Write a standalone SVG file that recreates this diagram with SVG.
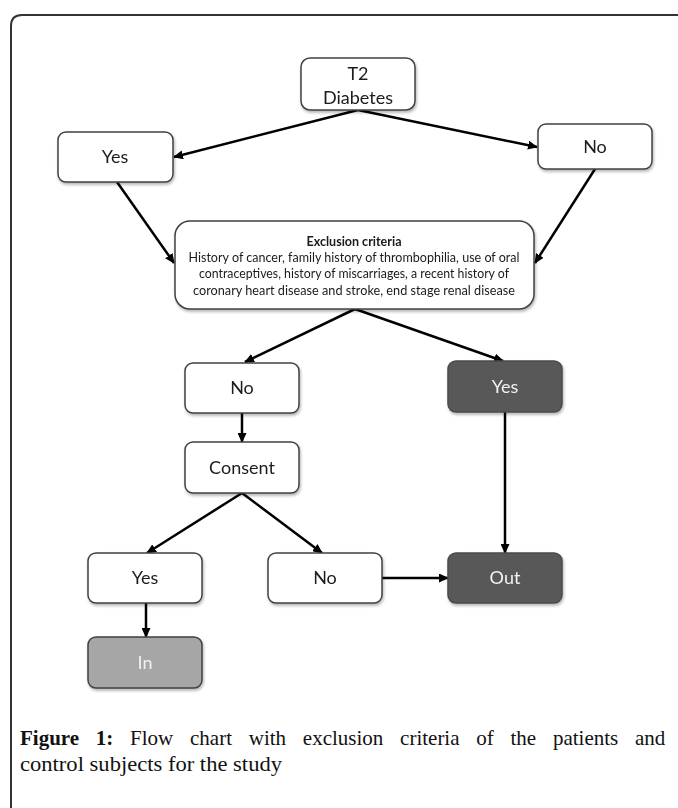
<svg xmlns="http://www.w3.org/2000/svg" width="678" height="808" viewBox="0 0 678 808">
<style>
.box{fill:#fff;stroke:#404040;stroke-width:1.5}
.dark{fill:#595959;stroke:#4a4a4a;stroke-width:1.5}
.grey{fill:#a6a6a6;stroke:#404040;stroke-width:1.5}
.lbl{font-family:Lato,"Open Sans",sans-serif;font-size:18px;fill:#1a1a1a;text-anchor:middle}
.lw{fill:#f2f2f2}
.ex{font-family:Lato,"Open Sans",sans-serif;font-size:13px;fill:#1a1a1a;text-anchor:middle}
.con{stroke:#000;stroke-width:2.5;fill:none;marker-end:url(#ah)}
.cap{font-family:"Liberation Serif",serif;font-size:21px;fill:#111}
</style>
<defs>
<marker id="ah" markerUnits="userSpaceOnUse" markerWidth="10" markerHeight="9" refX="9" refY="4.5" orient="auto">
<path d="M0,0 L10,4.5 L0,9 z" fill="#000"/>
</marker>
<filter id="sh" x="-10%" y="-10%" width="125%" height="130%">
<feGaussianBlur in="SourceAlpha" stdDeviation="1.5"/>
<feOffset dx="1" dy="2" result="b"/>
<feComponentTransfer><feFuncA type="linear" slope="0.3"/></feComponentTransfer>
<feMerge><feMergeNode/><feMergeNode in="SourceGraphic"/></feMerge>
</filter>
</defs>
<rect width="678" height="808" fill="#fff"/>
<path d="M11,808 L11,26 Q11,15 22,15 L678,15" fill="none" stroke="#333" stroke-width="2"/>

<g id="connectors">
<line class="con" x1="358" y1="110" x2="174" y2="157"/>
<line class="con" x1="358" y1="110" x2="537" y2="147"/>
<line class="con" x1="117" y1="182" x2="174" y2="263"/>
<line class="con" x1="595" y1="169" x2="535" y2="263"/>
<line class="con" x1="355" y1="309" x2="245" y2="362"/>
<line class="con" x1="355" y1="309" x2="503" y2="361"/>
<line class="con" x1="242" y1="413" x2="242" y2="442"/>
<line class="con" x1="242" y1="493" x2="147" y2="553"/>
<line class="con" x1="242" y1="493" x2="322" y2="553"/>
<line class="con" x1="505" y1="412" x2="505" y2="553"/>
<line class="con" x1="382" y1="578" x2="448" y2="578"/>
<line class="con" x1="146" y1="603" x2="146" y2="637"/>
</g>

<g id="t2" filter="url(#sh)">
<rect class="box" x="301" y="58" width="114" height="52" rx="9"/>
<text class="lbl" x="358" y="80">T2</text>
<text class="lbl" x="358" y="104">Diabetes</text>
</g>
<g id="yes1" filter="url(#sh)">
<rect class="box" x="58" y="132" width="115" height="50" rx="8"/>
<text class="lbl" x="115" y="163">Yes</text>
</g>
<g id="no1" filter="url(#sh)">
<rect class="box" x="538" y="124" width="114" height="45" rx="8"/>
<text class="lbl" x="595" y="153">No</text>
</g>
<g id="exclusion" filter="url(#sh)">
<rect class="box" x="175" y="221" width="359" height="88" rx="15" stroke-width="2"/>
<text class="ex" x="354" y="246" font-weight="bold" textLength="95" lengthAdjust="spacingAndGlyphs">Exclusion criteria</text>
<text class="ex" x="354" y="262" textLength="331" lengthAdjust="spacingAndGlyphs">History of cancer,  family history of thrombophilia, use of oral</text>
<text class="ex" x="354" y="278" textLength="310" lengthAdjust="spacingAndGlyphs">contraceptives, history of miscarriages, a recent history of</text>
<text class="ex" x="354" y="295" textLength="322" lengthAdjust="spacingAndGlyphs">coronary heart disease and stroke, end stage renal disease</text>
</g>
<g id="no2" filter="url(#sh)">
<rect class="box" x="185" y="363" width="114" height="50" rx="8"/>
<text class="lbl" x="242" y="394">No</text>
</g>
<g id="yes2" filter="url(#sh)">
<rect class="dark" x="448" y="361" width="114" height="51" rx="8"/>
<text class="lbl lw" x="505" y="393">Yes</text>
</g>
<g id="consent" filter="url(#sh)">
<rect class="box" x="185" y="442" width="114" height="51" rx="8"/>
<text class="lbl" x="242" y="474">Consent</text>
</g>
<g id="yes3" filter="url(#sh)">
<rect class="box" x="88" y="553" width="114" height="50" rx="8"/>
<text class="lbl" x="145" y="584">Yes</text>
</g>
<g id="no3" filter="url(#sh)">
<rect class="box" x="268" y="553" width="114" height="50" rx="8"/>
<text class="lbl" x="325" y="584">No</text>
</g>
<g id="out" filter="url(#sh)">
<rect class="dark" x="448" y="553" width="114" height="50" rx="8"/>
<text class="lbl lw" x="505" y="584">Out</text>
</g>
<g id="in" filter="url(#sh)">
<rect class="grey" x="88" y="637" width="114" height="51" rx="8"/>
<text class="lbl lw" x="145" y="669">In</text>
</g>

<g id="caption">
<text class="cap" x="20" y="745" word-spacing="11.5"><tspan font-weight="bold">Figure 1:</tspan> Flow chart with exclusion criteria of the patients and</text>
<text class="cap" x="20" y="771" textLength="262" lengthAdjust="spacingAndGlyphs">control subjects for the study</text>
</g>
</svg>
